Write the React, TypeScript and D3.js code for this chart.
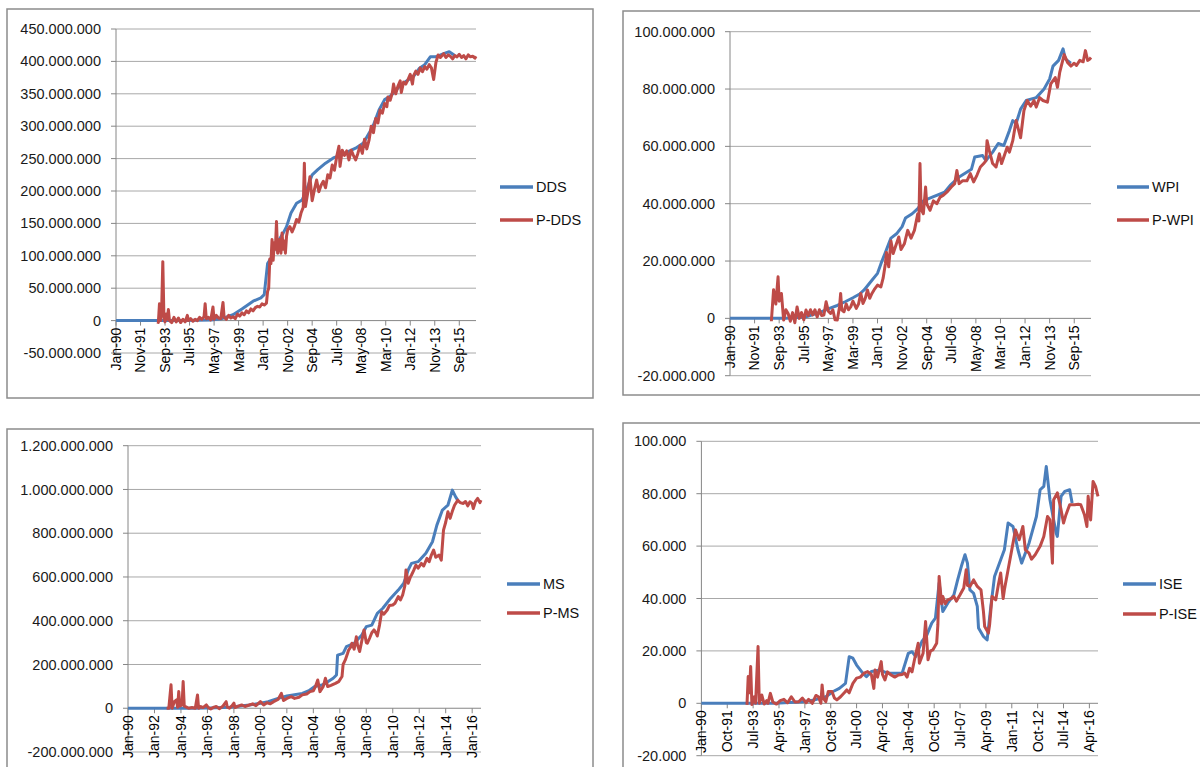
import * as d3 from 'd3';
import React from 'react';

type Pt = [number, number]; // [months since Jan-1990, value]

// ---- DDS panel (values in millions) ----
const ddsLabels = ['DDS', 'P-DDS'];
const ddsXTicks = ['Jan-90', 'Nov-91', 'Sep-93', 'Jul-95', 'May-97', 'Mar-99', 'Jan-01', 'Nov-02', 'Sep-04', 'Jul-06', 'May-08', 'Mar-10', 'Jan-12', 'Nov-13', 'Sep-15'];
const ddsYTicks = [-50, 0, 50, 100, 150, 200, 250, 300, 350, 400, 450];
const dds: Pt[] = [[0, 0], [37, 0], [60, 0], [85, 1], [95, 3], [105, 9], [113, 18], [123, 30], [130, 35], [133, 40], [136, 88], [140, 99], [143, 115], [150, 135], [153, 145], [157, 166], [162, 181], [167, 186], [171, 202], [176, 225], [181, 233], [188, 243], [195, 251], [198, 253], [205, 258], [215, 266], [222, 274], [227, 289], [231, 302], [236, 325], [241, 341], [246, 346], [253, 359], [260, 369], [267, 377], [272, 389], [277, 395], [282, 407], [287, 407], [294, 412], [299, 415], [304, 409]];
const pDds: Pt[] = [[37, -2], [38, -3], [39, 26], [40, 0], [41, 20], [42, 91], [43, 5], [44, -2], [45, 10], [46, 2], [47, 17], [48, 0], [50, -3], [52, 5], [54, -2], [56, 4], [58, -3], [60, 2], [62, -2], [64, 8], [65, 0], [67, 3], [69, -1], [71, 2], [73, 0], [75, 5], [77, 2], [79, 6], [80, 26], [81, 3], [83, 5], [85, 1], [87, 21], [88, 2], [90, 8], [92, 4], [94, 3], [96, 28], [97, 5], [99, 2], [101, 8], [103, 4], [105, 6], [107, 3], [109, 10], [111, 7], [113, 12], [115, 9], [117, 15], [119, 12], [121, 18], [123, 15], [125, 20], [127, 22], [129, 21], [131, 26], [133, 24], [135, 27], [136, 45], [137, 50], [138, 95], [139, 88], [140, 125], [141, 93], [142, 120], [143, 110], [144, 153], [145, 104], [146, 118], [147, 125], [148, 104], [149, 135], [150, 110], [151, 123], [152, 104], [153, 130], [154, 140], [156, 145], [158, 137], [160, 145], [162, 156], [164, 152], [166, 166], [168, 175], [169, 243], [170, 176], [172, 197], [174, 222], [176, 185], [178, 202], [180, 217], [182, 199], [184, 209], [186, 215], [188, 205], [190, 225], [192, 220], [194, 240], [196, 232], [198, 253], [200, 269], [201, 238], [203, 263], [205, 255], [207, 262], [209, 248], [211, 263], [213, 255], [215, 248], [217, 258], [219, 270], [221, 258], [223, 280], [225, 265], [227, 278], [229, 300], [231, 290], [233, 312], [235, 305], [237, 325], [239, 320], [241, 335], [243, 330], [244, 345], [246, 340], [248, 352], [249, 365], [251, 350], [253, 362], [255, 370], [256, 352], [258, 368], [260, 365], [262, 372], [264, 380], [266, 365], [267, 378], [269, 385], [271, 380], [273, 390], [275, 384], [277, 392], [279, 388], [281, 395], [283, 390], [285, 372], [287, 398], [289, 410], [291, 406], [293, 410], [294, 412], [296, 406], [298, 410], [300, 408], [302, 404], [304, 409], [306, 407], [308, 411], [310, 406], [312, 409], [314, 404], [316, 410], [318, 407], [320, 408], [322, 405], [323, 408]];

// ---- WPI panel (millions) ----
const wpiLabels = ['WPI', 'P-WPI'];
const wpiXTicks = ddsXTicks;
const wpiYTicks = [-20, 0, 20, 40, 60, 80, 100];
const wpi: Pt[] = [[0, 0], [37, 0], [50, 0], [68, 0.5], [80, 2], [89, 3.5], [96, 4.5], [103, 5.8], [110, 7.2], [116, 8.5], [120, 9.9], [127, 13.3], [132, 15.7], [135, 19], [139, 23], [142, 26], [144, 28], [149, 29.5], [154, 32], [157, 35], [163, 36.5], [168, 38.3], [173, 41], [181, 42.3], [192, 44], [197, 46.4], [205, 49.3], [216, 52], [219, 56.3], [226, 56.8], [229, 55], [235, 58], [240, 61], [245, 60.3], [250, 65.5], [253, 69], [256, 68], [260, 73], [265, 76], [274, 77], [281, 80], [286, 83.5], [289, 88], [294, 90], [298, 94], [300, 90.5], [305, 89]];
const pWpi: Pt[] = [[37, -1], [39, 10], [41, 5], [43, 14.5], [44, 6], [46, 8.7], [48, -0.6], [50, 3], [52, 1.7], [54, -1], [56, 2], [58, -1.5], [60, 4], [62, 0], [64, 2], [66, -0.5], [68, 2.9], [70, 1], [72, 3], [74, 1.2], [76, 3], [78, 0.5], [80, 3], [82, 1], [84, 1.2], [86, 5.8], [88, 2.5], [90, 1.7], [92, 3], [94, -0.5], [96, -0.6], [98, 4], [99, 8.7], [100, 3], [102, 2.3], [104, 5], [106, 3], [108, 4], [110, 6], [113, 3.5], [115, 5], [117, 8.7], [119, 5.2], [121, 7], [123, 9.9], [125, 7], [127, 8.7], [129, 10], [132, 11.6], [135, 11], [137, 14], [139, 19], [140, 23], [142, 18], [144, 27], [146, 22.6], [148, 25], [151, 28.4], [153, 24], [156, 26], [159, 30.7], [162, 28], [165, 30.7], [168, 36.5], [169, 34], [170, 54], [171, 38], [173, 36.5], [175, 45.8], [176, 40], [179, 37.7], [182, 41], [185, 40], [188, 42.3], [191, 43], [194, 44], [198, 45.8], [201, 47], [203, 51.6], [205, 47], [208, 48], [212, 48], [215, 50.5], [218, 47.6], [221, 50], [224, 52.8], [227, 54], [229, 55], [230, 62], [232, 58.6], [235, 54], [238, 52.8], [241, 57.4], [243, 54], [245, 56.3], [248, 59.7], [250, 58], [253, 62], [256, 69], [258, 66], [260, 63], [263, 72.5], [266, 76], [269, 74], [272, 76], [274, 73.7], [277, 77], [280, 76], [284, 75.4], [287, 81.8], [291, 84], [293, 80.6], [295, 85.8], [299, 92], [302, 89.3], [305, 88], [308, 89], [310, 88.2], [313, 90], [316, 89.5], [318, 93.4], [320, 90], [322, 90.5], [323, 91]];

// ---- MS panel (millions) ----
const msLabels = ['MS', 'P-MS'];
const msXTicks = ['Jan-90', 'Jan-92', 'Jan-94', 'Jan-96', 'Jan-98', 'Jan-00', 'Jan-02', 'Jan-04', 'Jan-06', 'Jan-08', 'Jan-10', 'Jan-12', 'Jan-14', 'Jan-16'];
const msYTicks = [-200, 0, 200, 400, 600, 800, 1000, 1200];
const ms: Pt[] = [[0, 0], [36, 0], [60, 0], [80, 2], [92, 5], [100, 9], [110, 15], [119, 22], [127, 30], [136, 45], [144, 56], [151, 62], [158, 68], [164, 80], [169, 99], [175, 105], [179, 114], [186, 137], [189, 152], [190, 243], [195, 251], [198, 282], [205, 297], [212, 335], [216, 373], [221, 380], [226, 434], [231, 457], [238, 502], [245, 540], [250, 571], [254, 632], [257, 662], [263, 670], [270, 708], [276, 761], [280, 837], [285, 906], [290, 928], [294, 997], [297, 966], [299, 950]];
const pMs: Pt[] = [[35, 0], [37, 0], [39, 107], [40, 0], [42, 30], [44, 38], [45, 5], [46, 76], [47, 10], [49, 15], [50, 122], [51, 10], [53, 5], [55, 0], [58, 3], [61, 0], [63, 61], [64, 0], [66, 8], [68, 3], [71, 15], [73, 2], [75, -3], [78, 5], [80, 8], [83, -2], [86, 10], [89, 30], [90, 5], [92, 0], [94, 10], [96, 23], [97, 3], [100, 10], [103, 15], [106, 8], [110, 15], [113, 20], [116, 12], [120, 30], [123, 15], [126, 25], [129, 20], [132, 30], [136, 40], [139, 68], [141, 35], [144, 45], [148, 53], [151, 45], [155, 50], [158, 61], [162, 65], [165, 76], [168, 80], [170, 100], [172, 129], [174, 76], [177, 100], [179, 137], [181, 99], [184, 105], [188, 114], [191, 122], [194, 145], [195, 200], [197, 221], [199, 250], [200, 266], [202, 280], [203, 297], [205, 270], [207, 327], [208, 290], [210, 259], [212, 310], [214, 358], [216, 300], [217, 297], [219, 320], [221, 345], [223, 358], [225, 342], [226, 330], [228, 380], [230, 441], [232, 430], [235, 449], [237, 470], [240, 472], [242, 480], [245, 510], [247, 495], [249, 518], [251, 560], [252, 632], [254, 571], [256, 600], [257, 609], [259, 630], [261, 654], [263, 640], [266, 662], [268, 650], [271, 685], [273, 670], [275, 700], [277, 723], [279, 690], [282, 700], [284, 677], [286, 814], [288, 850], [290, 898], [292, 868], [294, 900], [296, 928], [299, 951], [301, 940], [304, 936], [306, 945], [308, 925], [310, 944], [312, 935], [313, 913], [315, 945], [317, 959], [319, 940], [320, 951]];

// ---- ISE panel (thousands) ----
const iseLabels = ['ISE', 'P-ISE'];
const iseXTicks = ['Jan-90', 'Oct-91', 'Jul-93', 'Apr-95', 'Jan-97', 'Oct-98', 'Jul-00', 'Apr-02', 'Jan-04', 'Oct-05', 'Jul-07', 'Apr-09', 'Jan-11', 'Oct-12', 'Jul-14', 'Apr-16'];
const iseYTicks = [-20, 0, 20, 40, 60, 80, 100];
const ise: Pt[] = [[0, 0], [36, 0], [60, 0], [82, 0.6], [92, 1.3], [101, 2.5], [107, 4.5], [112, 5.7], [117, 7.6], [120, 17.8], [123, 17.2], [126, 14.6], [131, 11.5], [134, 10.2], [138, 12.1], [145, 12.7], [151, 11.5], [157, 11.5], [163, 11.5], [168, 19.1], [171, 19.7], [174, 17.8], [179, 23.6], [183, 26], [187, 30.6], [190, 32.5], [193, 45.9], [196, 35], [200, 38.2], [205, 41.4], [208, 47], [211, 52.2], [214, 56.7], [216, 53.5], [218, 43.3], [221, 42], [224, 37], [225, 28.7], [229, 25.5], [232, 24.2], [235, 37], [238, 48.4], [243, 54.8], [246, 58.6], [249, 68.8], [253, 67.5], [257, 58.6], [260, 53.5], [266, 61.1], [272, 71.3], [275, 81.5], [278, 82.8], [280, 90.4], [283, 77.7], [286, 70], [288, 65], [289, 63.7], [292, 79], [295, 80.9], [299, 81.5], [301, 76.4]];
const pIse: Pt[] = [[37, -0.6], [38, 10.2], [39, 4], [40, 14], [41, -0.5], [43, 2.5], [44, 0], [46, 21.7], [47, 0], [49, 3.2], [51, -0.3], [53, 1], [54, 0], [56, 3.8], [58, 0.5], [61, -0.3], [64, 1], [67, 1.5], [70, 0.2], [73, 2.5], [76, 0.5], [79, 0.6], [82, 2], [85, 0.2], [87, 1.5], [90, 0], [93, 3], [95, 2.5], [97, 0], [98, 7], [99, 2], [101, 0.6], [103, 4.5], [106, 4.5], [108, 2], [110, 1.3], [113, 2.5], [116, 4], [118, 5.1], [120, 4], [123, 7.6], [126, 9.6], [129, 10], [132, 11.5], [135, 12.1], [138, 11], [140, 5.7], [141, 12.7], [143, 10], [146, 15.9], [147, 11], [149, 8.9], [151, 12], [154, 10.8], [157, 10], [160, 10.8], [163, 11], [165, 11.5], [167, 10], [169, 13.4], [171, 12], [173, 16.6], [176, 22.9], [177, 15.3], [180, 19.1], [182, 31.2], [184, 16.6], [186, 20], [188, 20.4], [191, 22.9], [192, 30], [193, 48.4], [195, 38], [196, 40.8], [198, 38], [200, 39.5], [203, 40], [205, 40.8], [207, 39], [210, 41.4], [213, 44], [215, 51], [216, 45], [218, 44.6], [221, 47.1], [224, 44.6], [227, 43.3], [229, 35], [230, 29.3], [233, 26.8], [234, 30], [236, 40.8], [239, 39.5], [241, 45], [243, 49.7], [245, 40], [246, 43.3], [249, 51], [252, 58.6], [255, 66.2], [258, 62.4], [261, 67.5], [263, 58.6], [266, 57.3], [268, 55], [271, 56.7], [275, 59.9], [278, 63.7], [281, 71.3], [283, 70], [285, 53.5], [286, 77.7], [289, 80.3], [292, 73.9], [294, 68.8], [296, 72], [299, 75.8], [303, 75.8], [306, 76], [308, 75.8], [311, 72], [313, 67.5], [314, 79], [316, 70], [318, 84.7], [320, 82.8], [322, 79]];

const BLUE = '#4a7ebb';
const RED = '#be4b48';
const FONT = '"Liberation Sans", Arial, sans-serif';

const locale = d3.formatLocale({ decimal: ',', thousands: '.', grouping: [3], currency: ['', ''], minus: '-' });
const fmt = locale.format(',.0f');
const parseTick = d3.timeParse('%b-%y');
const monthIndex = (label: string) => {
  const d = parseTick(label) as Date;
  return (d.getFullYear() - 1990) * 12 + d.getMonth();
};

interface PanelProps {
  frame: [number, number, number, number];
  xr: [number, number];
  yr: [number, number];
  maxMonth: number;
  unit: number;
  yTicks: number[];
  xTicks: string[];
  series: [Pt[], Pt[]];
  labels: string[];
  legend: { x1: number; x2: number; y: [number, number] };
}

const Panel = ({ frame, xr, yr, maxMonth, unit, yTicks, xTicks, series, labels, legend }: PanelProps) => {
  const x = d3.scaleLinear().domain([0, maxMonth]).range(xr);
  const y = d3.scaleLinear().domain([yTicks[0], yTicks[yTicks.length - 1]]).range(yr);
  const line = d3.line<Pt>().x((d) => x(d[0])).y((d) => y(d[1]));
  const colors = [BLUE, RED];
  const y0 = y(0);
  return (
    <g>
      <rect x={frame[0]} y={frame[1]} width={frame[2] - frame[0]} height={frame[3] - frame[1]} fill="#fff" stroke="#8c8c8c" strokeWidth={1.5} />
      {yTicks.map((v) => (
        <g key={v}>
          {v !== 0 && <line x1={xr[0]} x2={xr[1]} y1={y(v)} y2={y(v)} stroke="#a8a8a8" strokeWidth={1} />}
          <line x1={xr[0] - 5} x2={xr[0]} y1={y(v)} y2={y(v)} stroke="#868686" />
          <text x={xr[0] - 15} y={y(v)} dy="0.35em" textAnchor="end" fontSize={14.5} fill="#1a1a1a">{fmt(v * unit)}</text>
        </g>
      ))}
      <line x1={xr[0]} x2={xr[1]} y1={y0} y2={y0} stroke="#868686" />
      <line x1={xr[0]} x2={xr[0]} y1={yr[0]} y2={yr[1]} stroke="#868686" />
      {xTicks.map((t) => {
        const px = x(monthIndex(t));
        return (
          <g key={t}>
            <line x1={px} x2={px} y1={y0} y2={y0 + 5} stroke="#868686" />
            <text transform={`translate(${px},${y0 + 7}) rotate(-90)`} dy="0.35em" textAnchor="end" fontSize={14} fill="#000">{t}</text>
          </g>
        );
      })}
      {series.map((s, i) => (
        <path key={i} d={line(s) ?? ''} fill="none" stroke={colors[i]} strokeWidth={3} strokeLinejoin="round" />
      ))}
      {labels.map((l, i) => (
        <g key={l}>
          <line x1={legend.x1} x2={legend.x2} y1={legend.y[i]} y2={legend.y[i]} stroke={colors[i]} strokeWidth={3.5} />
          <text x={legend.x2 + 3} y={legend.y[i]} dy="0.35em" fontSize={14.5} fill="#111">{l}</text>
        </g>
      ))}
    </g>
  );
};

export default function App() {
  return (
    <svg width={1200} height={767} style={{ position: 'absolute', left: 0, top: 0, fontFamily: FONT, background: '#fff' }}>
      <Panel frame={[7, 9, 593, 398]} xr={[116, 476]} yr={[353, 29]} maxMonth={323} unit={1e6} yTicks={ddsYTicks} xTicks={ddsXTicks} series={[dds, pDds]} labels={ddsLabels} legend={{ x1: 500, x2: 533, y: [187, 220] }} />
      <Panel frame={[623, 11, 1210, 395]} xr={[730, 1091]} yr={[375.7, 31.7]} maxMonth={323} unit={1e6} yTicks={wpiYTicks} xTicks={wpiXTicks} series={[wpi, pWpi]} labels={wpiLabels} legend={{ x1: 1117, x2: 1149, y: [187, 220] }} />
      <Panel frame={[7, 429, 593, 790]} xr={[128, 481]} yr={[752, 445.7]} maxMonth={320} unit={1e6} yTicks={msYTicks} xTicks={msXTicks} series={[ms, pMs]} labels={msLabels} legend={{ x1: 507, x2: 540, y: [584, 613] }} />
      <Panel frame={[623, 423, 1210, 790]} xr={[701.4, 1098]} yr={[755.7, 441.3]} maxMonth={322} unit={1e3} yTicks={iseYTicks} xTicks={iseXTicks} series={[ise, pIse]} labels={iseLabels} legend={{ x1: 1123, x2: 1156, y: [584, 614] }} />
    </svg>
  );
}
